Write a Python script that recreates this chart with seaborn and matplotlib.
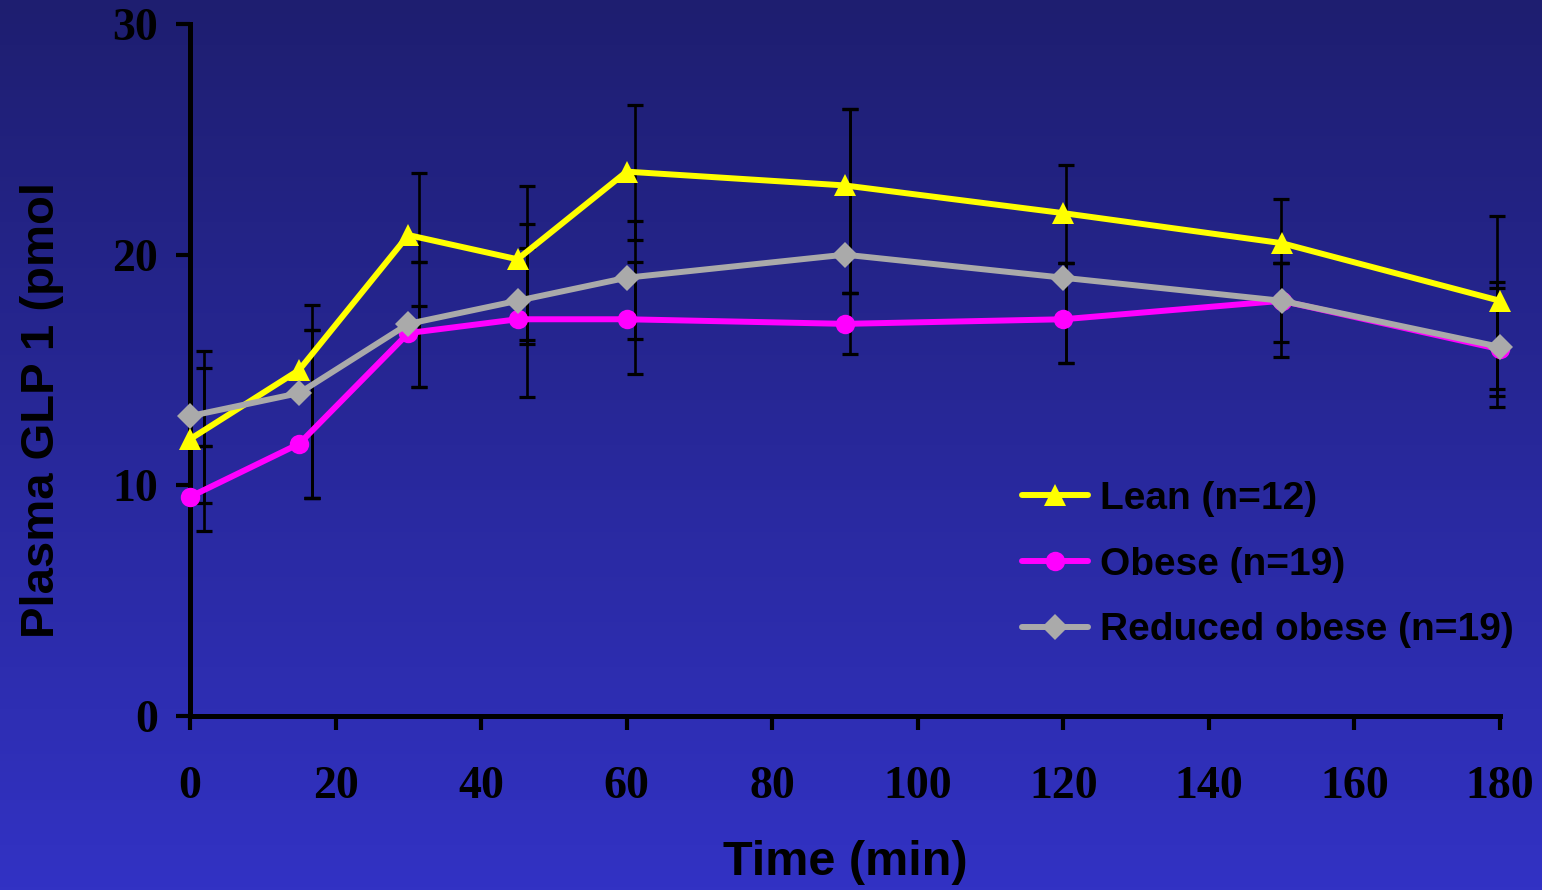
import numpy as np
import pandas as pd
import matplotlib
matplotlib.use("Agg")
import matplotlib.pyplot as plt
from matplotlib.lines import Line2D
from matplotlib.colors import LinearSegmentedColormap
import seaborn as sns

# ---- data -------------------------------------------------------------
times = [0, 15, 30, 45, 60, 90, 120, 150, 180]
groups = ["Lean (n=12)", "Obese (n=19)", "Reduced obese (n=19)"]

lean = [12.0, 15.0, 20.85, 19.8, 23.6, 23.0, 21.8, 20.5, 18.0]
obese = [9.5, 11.8, 16.6, 17.2, 17.2, 17.0, 17.2, 18.0, 15.9]
reduced = [13.0, 14.0, 17.0, 18.0, 19.0, 20.0, 19.0, 18.0, 16.0]

# lower / upper ends of the error bars
lean_lo = [8.03, 9.44, 19.68, 16.30, 20.63, 18.35, 19.65, 19.65, 14.17]
lean_hi = [15.83, 17.82, 23.55, 22.97, 26.48, 26.30, 23.87, 22.41, 21.69]
obese_lo = [9.22, 9.44, 14.25, 13.84, 14.81, 15.69, 15.31, 15.55, 13.41]
obese_hi = [11.72, 16.72, 17.77, 20.27, 19.67, 18.35, 19.65, 19.65, 18.80]
reduced_lo = [11.72, 9.44, 14.25, 16.12, 16.34, 18.35, 15.31, 16.20, 13.88]
reduced_hi = [15.10, 16.72, 19.68, 21.31, 21.46, 26.30, 19.65, 19.65, 18.54]

x_ticks = [0, 20, 40, 60, 80, 100, 120, 140, 160, 180]
y_ticks = [0, 10, 20, 30]

# ---- styling ------------------------------------------------------------
sns.set_style("ticks")
plt.rcParams["font.family"] = ["Liberation Sans", "DejaVu Sans"]

colors = {groups[0]: "#FFFF00", groups[1]: "#FF00FF", groups[2]: "#AAAAAA"}
markers = {groups[0]: "^", groups[1]: "o", groups[2]: "D"}
msizes = {groups[0]: 16, groups[1]: 14, groups[2]: 13}
line_w = 4.3

df = pd.DataFrame({
    "time": times * 3,
    "value": lean + obese + reduced,
    "group": [g for g in groups for _ in times],
})

fig = plt.figure(figsize=(15.42, 8.90), dpi=100)

# blue vertical gradient background
bg = fig.add_axes([0, 0, 1, 1], zorder=-10)
grad = np.linspace(0, 1, 256).reshape(-1, 1)
cmap = LinearSegmentedColormap.from_list("bg", ["#1e1e70", "#3232c4"])
bg.imshow(grad, aspect="auto", cmap=cmap, extent=[0, 1, 0, 1])
bg.set_axis_off()

ax = fig.add_axes([190 / 1542, 1 - 716 / 890, 1310 / 1542, 692 / 890])
ax.set_facecolor("none")

# error bars (drawn underneath the lines, on a slightly shifted time grid)
err_x = np.array(times) * 0.987 + 1.9
for mean, lo, hi in [(lean, lean_lo, lean_hi),
                     (obese, obese_lo, obese_hi),
                     (reduced, reduced_lo, reduced_hi)]:
    m = np.array(mean)
    yerr = [m - np.array(lo), np.array(hi) - m]
    ax.errorbar(err_x, m, yerr=yerr, fmt="none", ecolor="black",
                elinewidth=1.9, capsize=6, capthick=2.3, zorder=1,
                clip_on=False)

for g in groups:
    sub = df[df["group"] == g]
    sns.lineplot(data=sub, x="time", y="value", ax=ax, color=colors[g],
                 marker=markers[g], markersize=msizes[g],
                 markeredgewidth=0, linewidth=line_w, legend=False,
                 errorbar=None, zorder=4, clip_on=False)

ax.set_xlim(0, 180)
ax.set_ylim(0, 30)
ax.set_xticks(x_ticks)
ax.set_yticks(y_ticks)

for side in ["top", "right"]:
    ax.spines[side].set_visible(False)
for side in ["left", "bottom"]:
    ax.spines[side].set_linewidth(3.6)
    ax.spines[side].set_color("black")

ax.tick_params(axis="both", direction="out", length=10, width=3,
               color="black", labelcolor="black")
ax.tick_params(axis="y", pad=13)
ax.tick_params(axis="x", pad=26)
for lab in ax.get_xticklabels() + ax.get_yticklabels():
    lab.set_fontfamily("Liberation Serif")
    lab.set_fontweight("bold")
    lab.set_fontsize(33)

ax.set_xlabel("Time (min)", fontsize=35, fontweight="bold", color="black",
              ha="center", va="center")
ax.xaxis.set_label_coords(0.5, -0.211)
ax.set_ylabel("Plasma GLP 1 (pmol", fontsize=34, fontweight="bold",
              color="black", ha="center", va="center")
ax.yaxis.set_label_coords(-0.113, 0.442)

handles = [Line2D([0], [0], color=colors[g], marker=markers[g],
                  markersize=msizes[g], markeredgewidth=0, linewidth=line_w)
           for g in groups]
leg = ax.legend(handles, groups, loc="upper left",
                bbox_to_anchor=(1022 / 1542, 1 - 481 / 890),
                bbox_transform=fig.transFigure, frameon=False,
                borderpad=0, borderaxespad=0, handlelength=1.7,
                handletextpad=0.3, labelspacing=0.76,
                prop={"family": "Liberation Sans", "weight": "bold",
                      "size": 28})
for t in leg.get_texts():
    t.set_color("black")

fig.savefig("out.png", dpi=100)
